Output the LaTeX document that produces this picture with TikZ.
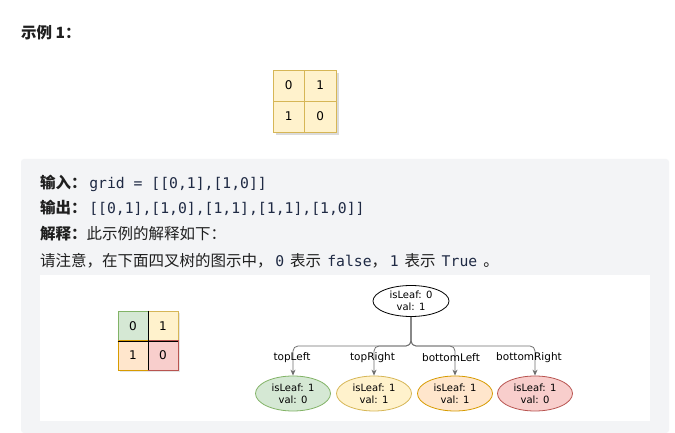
\documentclass[tikz,border=0pt]{standalone}
\usepackage{fontspec}
\setmainfont{DejaVu Sans}
\setmonofont{DejaVu Sans Mono}
\newfontfamily\cjk{Noto Sans CJK SC}
\usetikzlibrary{shapes.geometric,arrows.meta}
\definecolor{panel}{HTML}{F3F4F6}
\definecolor{txt}{HTML}{1F1F1F}
\definecolor{codec}{HTML}{1F2A44}
\definecolor{yfill}{HTML}{FFF2CC}
\definecolor{ystroke}{HTML}{D6B656}
\definecolor{gfill}{HTML}{D5E8D4}
\definecolor{gstroke}{HTML}{82B366}
\definecolor{ofill}{HTML}{FFE6CC}
\definecolor{ostroke}{HTML}{D79B00}
\definecolor{rfill}{HTML}{F8CECC}
\definecolor{rstroke}{HTML}{B85450}
\definecolor{conncol}{HTML}{707070}
\tikzset{
  textline/.style={anchor=west, inner sep=0, text=txt, font=\fontsize{15.5}{18}\selectfont\cjk},
  gridcell/.style={rectangle, inner sep=0, line width=0.8pt, font=\fontsize{12}{14}\selectfont},
  treenode/.style={ellipse, inner sep=0, line width=0.8pt, align=center, font=\fontsize{10}{12}\selectfont},
  leafnode/.style={treenode, minimum width=75pt, minimum height=35pt},
  conn/.style={draw=conncol, line width=0.8pt, rounded corners=5pt, -{Stealth[length=6pt,width=5pt]}},
  lbl/.style={inner sep=0, font=\fontsize{10.5}{12}\selectfont, text=black},
}
\newcommand{\cd}[1]{{\fontsize{14.75}{18}\selectfont\ttfamily\color{codec}#1}}
\begin{document}
\begin{tikzpicture}[x=1pt,y=-1pt]
\useasboundingbox (0,0) rectangle (675,433);
\fill[white] (0,0) rectangle (675,433);
% title
\node[anchor=west, inner sep=0, text=txt, font=\fontsize{15.5}{18}\selectfont\cjk\bfseries] (title) at (21,32.5) {示例 1：};
% top grid
\fill[black!14] (276,73) rectangle (339,135);
\node[gridcell, fill=yfill, draw=ystroke, minimum width=31.5pt, minimum height=31pt] (t00) at (288.75,85.5) {0};
\node[gridcell, fill=yfill, draw=ystroke, minimum width=31.5pt, minimum height=31pt] (t01) at (320.25,85.5) {1};
\node[gridcell, fill=yfill, draw=ystroke, minimum width=31.5pt, minimum height=31pt] (t10) at (288.75,116.5) {1};
\node[gridcell, fill=yfill, draw=ystroke, minimum width=31.5pt, minimum height=31pt] (t11) at (320.25,116.5) {0};
% panel
\fill[panel, rounded corners=3pt] (21,159) rectangle (669,433);
\fill[white] (40,275) rectangle (650,421);
% text lines
\node[textline] (l1) at (40,183) {{\bfseries 输入：}\,\cd{grid = [[0,1],[1,0]]}};
\node[textline] (l2) at (40,208) {{\bfseries 输出：}\,\cd{[[0,1],[1,0],[1,1],[1,1],[1,0]]}};
\node[textline] (l3) at (40,234) {{\bfseries 解释：}此示例的解释如下：};
\node[textline] (l4) at (40,261) {请注意，在下面四叉树的图示中，\,\cd{0}\, 表示 \,\cd{false}，\,\cd{1}\, 表示 \,\cd{True}\, 。};
% left grid
\fill[black!10] (120,313) rectangle (180,372);
\node[gridcell, fill=gfill, draw=gstroke, minimum width=30pt, minimum height=29.5pt] (q00) at (133,325.75) {0};
\node[gridcell, fill=yfill, draw=ystroke, minimum width=30pt, minimum height=29.5pt] (q01) at (163,325.75) {1};
\node[gridcell, fill=ofill, draw=ostroke, minimum width=30pt, minimum height=29.5pt] (q10) at (133,355.25) {1};
\node[gridcell, fill=rfill, draw=rstroke, minimum width=30pt, minimum height=29.5pt] (q11) at (163,355.25) {0};
\draw[black, line width=0.8pt] (q00.north east) -- (q10.south east);
\draw[black, line width=0.8pt] (q00.south west) -- (q01.south east);
% tree
\node[treenode, draw=black, fill=white, minimum width=76pt, minimum height=31pt] (root) at (411,301) {isLeaf: 0\\val: 1};
\node[leafnode, draw=gstroke, fill=gfill] (c1) at (293,393.5) {isLeaf: 1\\val: 0};
\node[leafnode, draw=ystroke, fill=yfill] (c2) at (374,393.5) {isLeaf: 1\\val: 1};
\node[leafnode, draw=ostroke, fill=ofill] (c3) at (455,393.5) {isLeaf: 1\\val: 1};
\node[leafnode, draw=rstroke, fill=rfill] (c4) at (535,393.5) {isLeaf: 1\\val: 0};
\coordinate (bar) at (411,346);
\draw[conn] (root.south) |- (c1.north |- bar) -- (c1.north);
\draw[conn] (root.south) |- (c2.north |- bar) -- (c2.north);
\draw[conn] (root.south) |- (c3.north |- bar) -- (c3.north);
\draw[conn] (root.south) |- (c4.north |- bar) -- (c4.north);
\node[lbl] (lb1) at (292,358) {topLeft};
\node[lbl] (lb2) at (372.5,358) {topRight};
\node[lbl] (lb3) at (451,358) {bottomLeft};
\node[lbl] (lb4) at (529,358) {bottomRight};
\end{tikzpicture}
\end{document}
